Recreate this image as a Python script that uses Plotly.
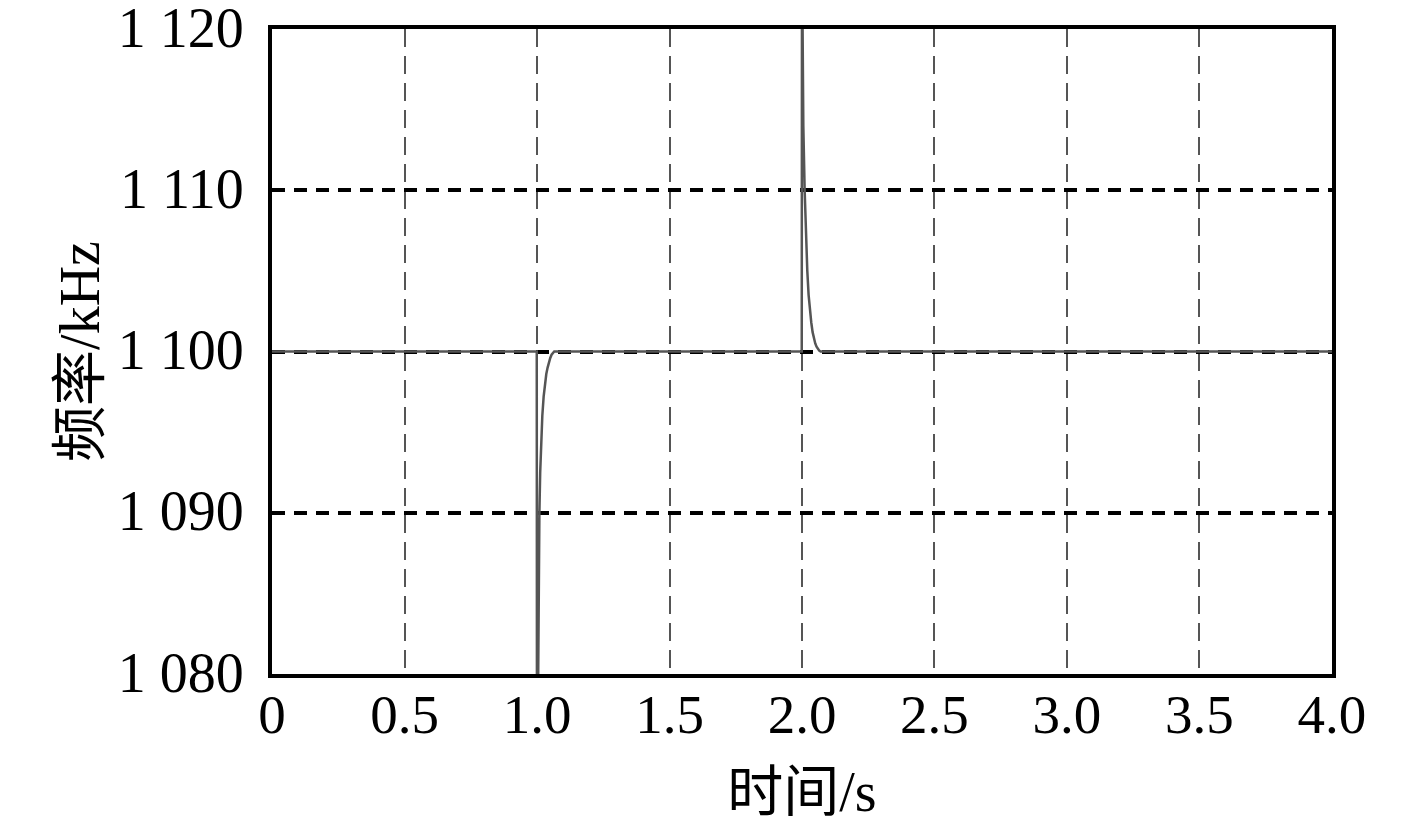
import plotly.graph_objects as go

# Time (s) and frequency (kHz)
time_s = [0.0, 0.999, 1.0, 1.003, 1.006, 1.009, 1.012, 1.016, 1.02, 1.025, 1.03, 1.035, 1.04, 1.045, 1.05, 1.055, 1.06, 1.065,
          1.5, 1.999, 2.0, 2.005, 2.01, 2.015, 2.02, 2.025, 2.03, 2.035, 2.04, 2.045, 2.05, 2.055, 2.06, 2.065, 2.07, 4.0]
freq_khz = [1100.0, 1100.0, 1070.0, 1078.0, 1086.0, 1090.0, 1092.5, 1094.5, 1096.0, 1097.2, 1098.0, 1098.6, 1099.0, 1099.4,
            1099.6, 1099.8, 1099.9, 1100.0,
            1100.0, 1100.0, 1125.0, 1114.0, 1110.0, 1107.0, 1105.0, 1103.5, 1102.5, 1101.8, 1101.2, 1100.8, 1100.5,
            1100.3, 1100.15, 1100.05, 1100.0, 1100.0]

x_tickvals = [0, 0.5, 1.0, 1.5, 2.0, 2.5, 3.0, 3.5, 4.0]
x_ticktext = ["0", "0.5", "1.0", "1.5", "2.0", "2.5", "3.0", "3.5", "4.0"]
y_tickvals = [1080, 1090, 1100, 1110, 1120]
y_ticktext = ["1 080", "1 090", "1 100", "1 110", "1 120"]

FONT = "Liberation Serif, Times New Roman, Noto Sans CJK SC, serif"

fig = go.Figure()
fig.add_trace(go.Scatter(x=time_s, y=freq_khz, mode="lines",
                         line=dict(color="#555555", width=2.5), showlegend=False))

fig.update_layout(
    width=1417, height=827,
    margin=dict(l=264, r=93, t=21, b=161),
    paper_bgcolor="white", plot_bgcolor="white",
    font=dict(family=FONT, size=56, color="black"),
)
fig.update_xaxes(
    range=[-0.0001, 4.0001], tickvals=x_tickvals, ticktext=x_ticktext,
    showline=True, linecolor="black", linewidth=4, mirror=True,
    showgrid=True, gridcolor="#555555", gridwidth=2, griddash="18px,9px",
    zeroline=False, ticks="", ticklabelstandoff=-11, ticklabeloverflow="allow",
    automargin=False,
    title=dict(text="时间/s", font=dict(family=FONT, size=56), standoff=29),
    tickfont=dict(family=FONT, size=55),
)
fig.update_yaxes(
    range=[1079.999, 1120.001], tickvals=y_tickvals, ticktext=y_ticktext,
    showline=True, linecolor="black", linewidth=4, mirror=True,
    showgrid=True, gridcolor="black", gridwidth=3.5, griddash="13px,9px",
    zeroline=False, ticks="", ticklabelstandoff=13, ticklabeloverflow="allow",
    ticklabelshift=-2,
    automargin=False,
    title=dict(text="频率/kHz", font=dict(family=FONT, size=56), standoff=1),
    tickfont=dict(family=FONT, size=56),
)

fig.write_html("out.html")
